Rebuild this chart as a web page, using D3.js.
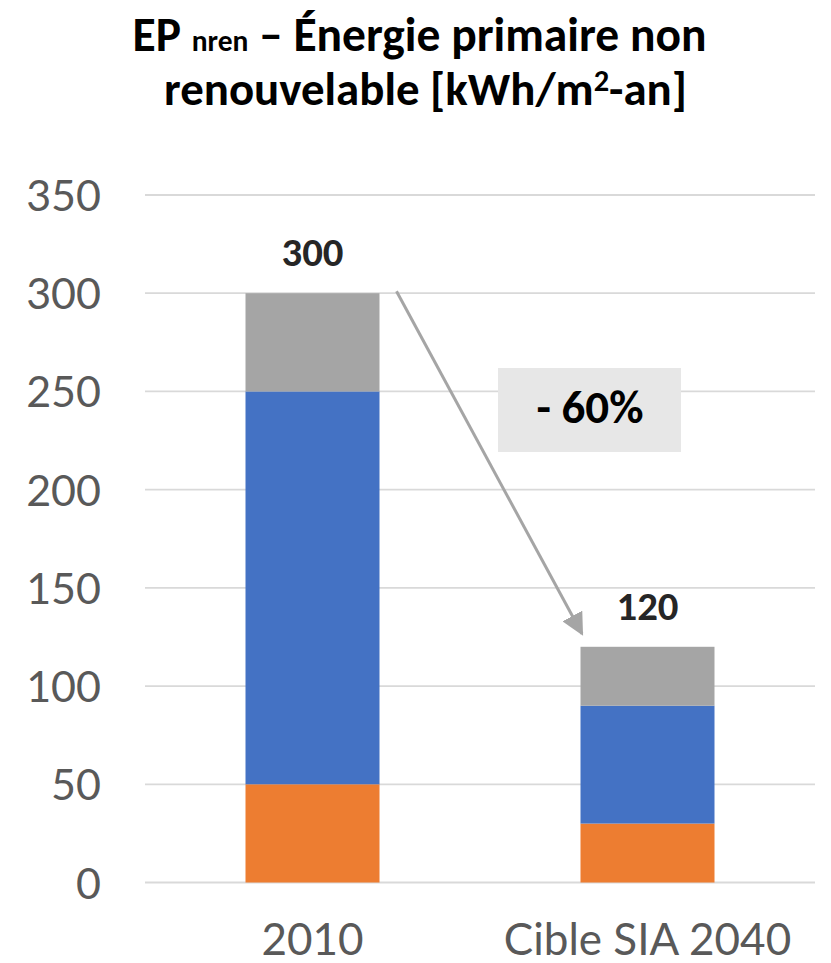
<!DOCTYPE html>
<html><head><meta charset="utf-8">
<script src="https://cdn.jsdelivr.net/npm/d3@7"></script>
<style>body{margin:0;background:#fff}svg{display:block}</style>
</head><body>
<svg id="c" width="831" height="963"></svg>
<script>
const categories = ["2010", "Cible SIA 2040"];
const seriesNames = ["orange", "bleu", "gris"];
const seriesOrange = [50, 30];
const seriesBlue = [200, 60];
const seriesGray = [50, 30];
const totals = [300, 120];
const yTicks = [0, 50, 100, 150, 200, 250, 300, 350];
const reductionLabel = "- 60%";

(function () {
const colors = ["#ED7D31", "#4472C4", "#A5A5A5"];
const svg = d3.select("#c");
const W = 831;
const mLeft = 145, mRight = 815, mTop = 195, mBottom = 882.5;

const x = d3.scaleBand().domain(categories).range([mLeft, mRight]).paddingInner(0.6).paddingOuter(0.3);
const y = d3.scaleLinear().domain([0, 350]).range([mBottom, mTop]);

const titleFont = "Carlito, 'Open Sans', 'Noto Sans', sans-serif";
const tickFont = "'Gill Sans', Lato, 'Noto Sans', sans-serif";

function fit(sel, target) {
  const node = sel.node();
  const w = node.getComputedTextLength();
  const fs = parseFloat(sel.attr("font-size"));
  sel.attr("font-size", fs * target / w);
  return sel;
}

// gridlines
svg.append("g").selectAll("line").data(yTicks).join("line")
  .attr("x1", mLeft).attr("x2", mRight)
  .attr("y1", d => y(d)).attr("y2", d => y(d))
  .attr("stroke", "#d9d9d9").attr("stroke-width", d => d === 0 ? 2.2 : 1.8);

// y tick labels
svg.append("g").selectAll("text").data(yTicks).join("text")
  .attr("x", 101).attr("y", d => y(d) + 16)
  .attr("text-anchor", "end")
  .attr("font-family", tickFont).attr("font-size", 43)
  .attr("fill", "#595959")
  .text(d => d);

// stacked bars
const rows = categories.map((c, i) => ({cat: c, orange: seriesOrange[i], bleu: seriesBlue[i], gris: seriesGray[i]}));
const stack = d3.stack().keys(seriesNames)(rows);
svg.append("g").selectAll("g").data(stack).join("g")
  .attr("fill", (d, i) => colors[i])
  .selectAll("rect").data(d => d).join("rect")
  .attr("x", d => x(d.data.cat))
  .attr("width", x.bandwidth())
  .attr("y", d => y(d[1]))
  .attr("height", d => y(d[0]) - y(d[1]));

// total labels
svg.append("g").selectAll("text").data(categories).join("text")
  .attr("x", d => x(d) + x.bandwidth() / 2)
  .attr("y", (d, i) => y(totals[i]) - 27)
  .attr("text-anchor", "middle")
  .attr("font-family", titleFont).attr("font-weight", "bold").attr("font-size", 34)
  .attr("fill", "#262626")
  .text((d, i) => totals[i])
  .each(function () { fit(d3.select(this), 62); });

// category labels
svg.append("g").selectAll("text").data(categories).join("text")
  .attr("x", d => x(d) + x.bandwidth() / 2)
  .attr("y", 955)
  .attr("text-anchor", "middle")
  .attr("font-family", tickFont).attr("font-size", 44)
  .attr("fill", "#595959")
  .text(d => d);

// arrow
const defs = svg.append("defs");
defs.append("marker").attr("id", "ah").attr("viewBox", "0 0 10 10")
  .attr("refX", 9).attr("refY", 5).attr("markerWidth", 7.5).attr("markerHeight", 7.5)
  .attr("markerUnits", "strokeWidth").attr("orient", "auto")
  .append("path").attr("d", "M0,0 L10,5 L0,10 z").attr("fill", "#A5A5A5");
const ax1 = x(categories[0]) + x.bandwidth() + 17, ay1 = y(totals[0]) - 2;
const ax2 = x(categories[1]) + 1.5, ay2 = y(totals[1]) - 13;
svg.append("line").attr("x1", ax1).attr("y1", ay1).attr("x2", ax2).attr("y2", ay2)
  .attr("stroke", "#A5A5A5").attr("stroke-width", 3).attr("marker-end", "url(#ah)");

// reduction label box
svg.append("rect").attr("x", 498).attr("y", 368).attr("width", 183).attr("height", 84).attr("fill", "#E7E7E7");
svg.append("text").attr("x", 590).attr("y", 423).attr("text-anchor", "middle")
  .attr("font-family", titleFont).attr("font-weight", "bold").attr("font-size", 44)
  .attr("fill", "#000").text(reductionLabel)
  .each(function () { fit(d3.select(this), 107); });

// title
const t1 = svg.append("text").attr("x", W / 2 + 4).attr("y", 51).attr("text-anchor", "middle")
  .attr("font-family", titleFont).attr("font-weight", "bold").attr("font-size", 36).attr("fill", "#000");
t1.append("tspan").text("EP ");
t1.append("tspan").attr("font-size", "0.62em").text("nren");
t1.append("tspan").text(" – Énergie primaire non");
const t2 = svg.append("text").attr("x", W / 2 + 10).attr("y", 105).attr("text-anchor", "middle")
  .attr("font-family", titleFont).attr("font-weight", "bold").attr("font-size", 36).attr("fill", "#000");
t2.append("tspan").text("renouvelable [kWh/m");
t2.append("tspan").attr("font-size", "0.65em").attr("dy", -14).text("2");
t2.append("tspan").attr("dy", 14).text("-an]");
fit(t1, 574);
fit(t2, 523);
})();
</script>
</body></html>
